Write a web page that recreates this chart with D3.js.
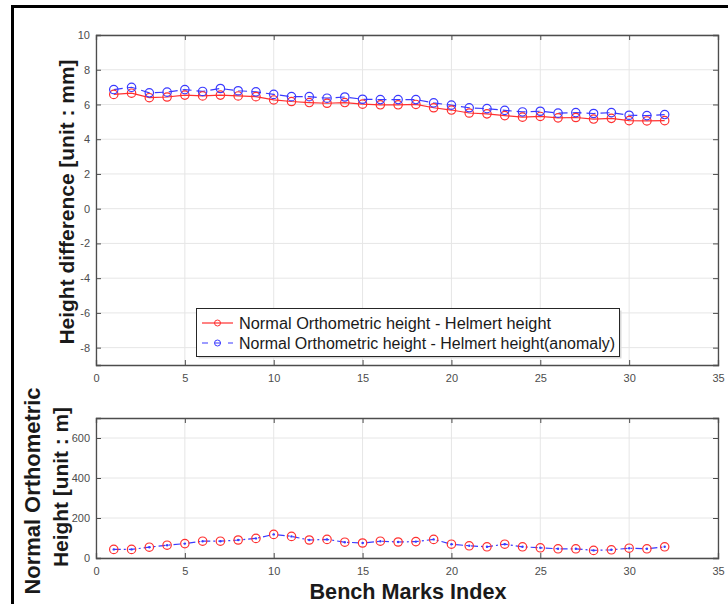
<!DOCTYPE html>
<html><head><meta charset="utf-8">
<script src="https://cdn.jsdelivr.net/npm/d3@7"></script>
<style>body{margin:0;background:#fff}svg{display:block}</style>
</head><body>
<script>
const benchIndex = d3.range(1, 33);
const diffHelmert = [6.58,6.65,6.39,6.43,6.54,6.49,6.54,6.49,6.45,6.26,6.17,6.11,6.07,6.11,6.02,5.98,5.98,6.00,5.81,5.68,5.51,5.46,5.36,5.27,5.31,5.23,5.25,5.16,5.20,5.07,5.05,5.07];
const diffAnomaly = [6.86,6.99,6.67,6.71,6.86,6.75,6.92,6.79,6.73,6.58,6.45,6.45,6.36,6.43,6.30,6.28,6.28,6.28,6.09,5.96,5.81,5.76,5.66,5.57,5.61,5.50,5.53,5.48,5.53,5.38,5.36,5.42];
const orthoHeight = [43,43,54,64,72,84,84,90,98,118,108,90,93,79,75,84,80,82,93,69,61,56,69,56,51,46,46,38,41,49,46,56];
const xTicks = [0,5,10,15,20,25,30,35];
const yTicksTop = [-8,-6,-4,-2,0,2,4,6,8,10];
const yTicksBottom = [0,200,400,600];
const legendLabels = ["Normal Orthometric height - Helmert height","Normal Orthometric height - Helmert height(anomaly)"];

const W = 728, H = 604;
const svg = d3.select("body").append("svg").attr("width", W).attr("height", H);
const font = "Liberation Sans, Arial, sans-serif";
const fmt = d => String(d);

// outer frame
svg.append("path").attr("d", `M12.5,${H} L12.5,6.5 L${W},6.5`).attr("fill","none").attr("stroke","#000").attr("stroke-width",3);

const x = d3.scaleLinear().domain([0,35]).range([96,718]);
const yTop = d3.scaleLinear().domain([-9,10]).range([365,35]);
const yBot = d3.scaleLinear().domain([0,700]).range([558,418]);

function panel(y, yTicks) {
  const g = svg.append("g");
  const [y0, y1] = y.range();
  g.selectAll(".gx").data(xTicks).join("line")
    .attr("x1", d=>x(d)).attr("x2", d=>x(d)).attr("y1", y0).attr("y2", y1)
    .attr("stroke", "#e6e6e6").attr("stroke-width", 1);
  g.selectAll(".gy").data(yTicks).join("line")
    .attr("x1", 96).attr("x2", 718).attr("y1", d=>y(d)).attr("y2", d=>y(d))
    .attr("stroke", "#e6e6e6").attr("stroke-width", 1);
  const gx = g.append("g").attr("transform", `translate(0,${y0})`)
    .call(d3.axisBottom(x).tickValues(xTicks).tickSize(-5).tickPadding(9).tickFormat(fmt));
  const gy = g.append("g").attr("transform", `translate(96,0)`)
    .call(d3.axisLeft(y).tickValues(yTicks).tickSize(-5).tickPadding(6).tickFormat(fmt));
  const gx2 = g.append("g").attr("transform", `translate(0,${y1})`).call(d3.axisTop(x).tickValues(xTicks).tickSize(-5).tickFormat(""));
  const gy2 = g.append("g").attr("transform", `translate(718,0)`).call(d3.axisRight(y).tickValues(yTicks).tickSize(-5).tickFormat(""));
  [gx,gy,gx2,gy2].forEach(a=>{
    a.select(".domain").attr("stroke", "#4d4d4d").attr("stroke-width",1.3);
    a.selectAll(".tick line").attr("stroke", "#4d4d4d");
    a.selectAll("text").attr("fill", "#4d4d4d").attr("font-size", 11).attr("font-family", font);
  });
  return g;
}

// top panel
panel(yTop, yTicksTop);
const lineTop = (arr) => d3.line().x((d,i)=>x(benchIndex[i])).y(d=>yTop(d))(arr);
svg.append("path").attr("d", lineTop(diffHelmert)).attr("fill","none").attr("stroke","#ff3030").attr("stroke-width",1.2);
svg.append("path").attr("d", lineTop(diffAnomaly)).attr("fill","none").attr("stroke","#3a3aff").attr("stroke-width",1.2).attr("stroke-dasharray","9,5");
svg.append("g").selectAll("circle").data(diffHelmert).join("circle")
  .attr("cx",(d,i)=>x(benchIndex[i])).attr("cy",d=>yTop(d)).attr("r",4.2)
  .attr("fill","none").attr("stroke","#ff3030").attr("stroke-width",1.2);
svg.append("g").selectAll("circle").data(diffAnomaly).join("circle")
  .attr("cx",(d,i)=>x(benchIndex[i])).attr("cy",d=>yTop(d)).attr("r",4.2)
  .attr("fill","none").attr("stroke","#3a3aff").attr("stroke-width",1.2);

// legend
const lg = svg.append("g");
lg.append("rect").attr("x",198.5).attr("y",310.5).attr("width",423).attr("height",48)
  .attr("fill","#d9d9d9");
lg.append("rect").attr("x",196.5).attr("y",308.5).attr("width",423).attr("height",48)
  .attr("fill","#fff").attr("stroke","#262626").attr("stroke-width",1);
lg.append("line").attr("x1",202).attr("x2",233).attr("y1",323).attr("y2",323).attr("stroke","#ff3030").attr("stroke-width",1.2);
lg.append("circle").attr("cx",217.5).attr("cy",323).attr("r",3).attr("fill","none").attr("stroke","#ff3030");
lg.append("line").attr("x1",202).attr("x2",233).attr("y1",343).attr("y2",343).attr("stroke","#3a3aff").attr("stroke-width",1.2).attr("stroke-dasharray","6,7");
lg.append("circle").attr("cx",217.5).attr("cy",343).attr("r",3).attr("fill","none").attr("stroke","#3a3aff");
lg.selectAll("text").data(legendLabels).join("text")
  .attr("x",239).attr("y",(d,i)=>323+i*20).attr("dy","0.35em")
  .attr("font-size",16).attr("textLength",(d,i)=> i ? 376 : 312).attr("lengthAdjust","spacingAndGlyphs")
  .attr("font-family",font).attr("fill","#1a1a1a").text(d=>d);

// bottom panel
panel(yBot, yTicksBottom);
const lineBot = d3.line().x((d,i)=>x(benchIndex[i])).y(d=>yBot(d));
svg.append("path").attr("d", lineBot(orthoHeight)).attr("fill","none").attr("stroke","#3a3aff").attr("stroke-width",1.2).attr("stroke-dasharray","7,3,2,3");
svg.append("g").selectAll("circle").data(orthoHeight).join("circle")
  .attr("cx",(d,i)=>x(benchIndex[i])).attr("cy",d=>yBot(d)).attr("r",4.2)
  .attr("fill","none").attr("stroke","#ff3030").attr("stroke-width",1.2);
svg.append("g").selectAll("circle").data(orthoHeight).join("circle")
  .attr("cx",(d,i)=>x(benchIndex[i])).attr("cy",d=>yBot(d)).attr("r",1.2)
  .attr("fill","#3a3aff");

// axis titles
const title = (tx, ty, rot, size, len, txt) => svg.append("text")
  .attr("transform",`translate(${tx},${ty}) rotate(${rot})`).attr("text-anchor","middle")
  .attr("font-size",size).attr("font-weight","bold").attr("font-family",font).attr("fill","#1a1a1a")
  .attr("textLength",len).attr("lengthAdjust","spacingAndGlyphs").text(txt);
title(74, 202, -90, 21, 285, "Height difference [unit : mm]");
title(40, 491, -90, 22, 207, "Normal Orthometric");
title(68, 487, -90, 21, 160, "Height [unit : m]");
title(408, 599, 0, 22, 197, "Bench Marks Index");
</script>
</body></html>
